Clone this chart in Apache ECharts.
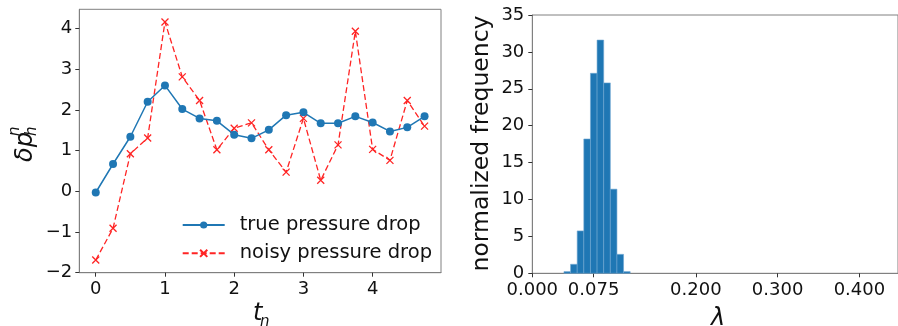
<!DOCTYPE html>
<html>
<head>
<meta charset="utf-8">
<script src="https://cdn.jsdelivr.net/npm/echarts@6/dist/echarts.min.js"></script>
<style>
html,body{margin:0;padding:0;background:#fff;}
#c{width:898px;height:326px;}
</style>
</head>
<body>
<div id="c"></div>
<script>
// ---- data ----
var timeSteps = [0, 0.25, 0.5, 0.75, 1, 1.25, 1.5, 1.75, 2, 2.25, 2.5, 2.75, 3, 3.25, 3.5, 3.75, 4, 4.25, 4.5, 4.75];
var truePressureDrop = [-0.03, 0.67, 1.34, 2.20, 2.60, 2.02, 1.79, 1.73, 1.39, 1.30, 1.51, 1.87, 1.94, 1.67, 1.67, 1.84, 1.69, 1.47, 1.57, 1.84];
var noisyPressureDrop = [-1.69, -0.91, 0.92, 1.31, 4.16, 2.81, 2.23, 1.02, 1.55, 1.68, 1.02, 0.47, 1.79, 0.27, 1.14, 3.93, 1.03, 0.76, 2.23, 1.60];
var lambdaBinEdges = [0.0387, 0.0468, 0.0549, 0.0630, 0.0711, 0.0792, 0.0873, 0.0954, 0.1035, 0.1116, 0.1197];
var lambdaFrequency = [0.23, 1.22, 5.74, 18.2, 27.1, 31.6, 25.8, 11.4, 2.57, 0.23];
var leftXTicks = [0, 1, 2, 3, 4];
var leftYTicks = [-2, -1, 0, 1, 2, 3, 4];
var rightXTicks = [0, 0.075, 0.2, 0.3, 0.4];
var seriesNames = ['true pressure drop', 'noisy pressure drop'];

var FONT = 'DejaVu Sans';
var SPINE = '#808080';
var TXT = '#111';

var truePts = timeSteps.map(function (t, i) { return [t, truePressureDrop[i]]; });
var noisyPts = timeSteps.map(function (t, i) { return [t, noisyPressureDrop[i]]; });
var histData = lambdaFrequency.map(function (h, i) { return [lambdaBinEdges[i], lambdaBinEdges[i + 1], h]; });

function axisCommon(extra) {
  var o = {
    axisLine: { show: true, onZero: false, lineStyle: { color: SPINE, width: 1 } },
    axisTick: { show: true, length: 4, lineStyle: { color: '#333', width: 1 } },
    axisLabel: { color: TXT, fontFamily: FONT, fontSize: 18 },
    splitLine: { show: false }
  };
  for (var k in extra) {
    if (typeof extra[k] === 'object' && o[k] && !Array.isArray(extra[k])) {
      for (var j in extra[k]) o[k][j] = extra[k][j];
    } else o[k] = extra[k];
  }
  return o;
}

var chart = echarts.init(document.getElementById('c'), null, { renderer: 'canvas' });
var option = {
  animation: false,
  backgroundColor: '#fff',
  grid: [
    { left: 79.3, top: 9.3, right: 457, bottom: 53.3, show: true, borderColor: SPINE, borderWidth: 1, backgroundColor: 'transparent' },
    { left: 532.3, top: 15, right: -1, bottom: 52.7, show: true, borderColor: SPINE, borderWidth: 1, backgroundColor: 'transparent' }
  ],
  xAxis: [
    axisCommon({ type: 'value', gridIndex: 0, min: -0.2375, max: 4.9875,
      axisTick: { customValues: leftXTicks },
      axisLabel: { customValues: leftXTicks, margin: 8 } }),
    axisCommon({ type: 'value', gridIndex: 1, min: 0, max: 0.4472,
      axisTick: { customValues: rightXTicks },
      axisLabel: { customValues: rightXTicks, margin: 8, formatter: function (v) { return v.toFixed(3); } } })
  ],
  yAxis: [
    axisCommon({ type: 'value', gridIndex: 0, min: -2, max: 4.47,
      axisTick: { customValues: leftYTicks },
      axisLabel: { customValues: leftYTicks, margin: 7, formatter: function (v) { return v < 0 ? '\u2212' + Math.abs(v) : String(v); } } }),
    axisCommon({ type: 'value', gridIndex: 1, min: 0, max: 35, interval: 5,
      axisLabel: { margin: 8 } })
  ],
  legend: {
    orient: 'vertical',
    left: 181.7,
    top: 215,
    padding: 0,
    itemWidth: 42,
    itemHeight: 9,
    itemGap: 8.3,
    data: seriesNames,
    textStyle: { fontFamily: FONT, fontSize: 19.5, color: TXT, padding: [0, 0, 0, 10], lineHeight: 20 }
  },
  series: [
    {
      name: seriesNames[0], type: 'line', xAxisIndex: 0, yAxisIndex: 0,
      data: truePts, symbol: 'circle', symbolSize: 8, showSymbol: true,
      lineStyle: { color: '#1f77b4', width: 1.5 },
      itemStyle: { color: '#1f77b4' },
      z: 3
    },
    {
      name: seriesNames[1], type: 'line', xAxisIndex: 0, yAxisIndex: 0,
      data: noisyPts, symbol: 'path://M0,0L10,10M10,0L0,10', symbolSize: 7, showSymbol: true,
      lineStyle: { color: '#ff2424', width: 1.3, type: [6, 3] },
      itemStyle: { color: '#ff2424', borderColor: '#ff2424', borderWidth: 1.3 },
      z: 2
    },
    {
      name: 'lambda', type: 'custom', xAxisIndex: 1, yAxisIndex: 1,
      data: histData,
      renderItem: function (params, api) {
        var p0 = api.coord([api.value(0), api.value(2)]);
        var p1 = api.coord([api.value(1), 0]);
        return {
          type: 'rect',
          shape: { x: p0[0], y: p0[1], width: p1[0] - p0[0], height: p1[1] - p0[1] },
          style: { fill: '#1f77b4', stroke: '#6fa6d2', lineWidth: 0.6 }
        };
      }
    }
  ],
  graphic: [
    { type: 'group', x: 33, y: 162, rotation: Math.PI / 2, children: [
      { type: 'text', x: 0, y: -7.7, style: { text: '\u03b4p', font: 'italic 24px "DejaVu Sans"', fill: TXT, textAlign: 'left', textVerticalAlign: 'middle' } },
      { type: 'text', x: 26, y: -17.8, style: { text: 'n', font: 'italic 15px "DejaVu Sans"', fill: TXT, textAlign: 'left', textVerticalAlign: 'middle' } },
      { type: 'text', x: 26, y: -0.8, style: { text: 'h', font: 'italic 15px "DejaVu Sans"', fill: TXT, textAlign: 'left', textVerticalAlign: 'middle' } }
    ]},
    { type: 'text', x: 253, y: 313.3, style: { text: 't', font: 'italic 24px "DejaVu Sans"', fill: TXT, textAlign: 'left', textVerticalAlign: 'middle' } },
    { type: 'text', x: 260, y: 322.5, style: { text: 'n', font: 'italic 15px "DejaVu Sans"', fill: TXT, textAlign: 'left', textVerticalAlign: 'middle' } },
    { type: 'text', x: 718, y: 318.3, style: { text: '\u03bb', font: 'italic 24px "DejaVu Sans"', fill: TXT, textAlign: 'center', textVerticalAlign: 'middle' } },
    { type: 'text', x: 482, y: 143.5, rotation: Math.PI / 2, style: { text: 'normalized frequency', font: '23.5px "DejaVu Sans"', fill: TXT, textAlign: 'center', textVerticalAlign: 'middle' } }
  ]
};
chart.setOption(option);
</script>
</body>
</html>
